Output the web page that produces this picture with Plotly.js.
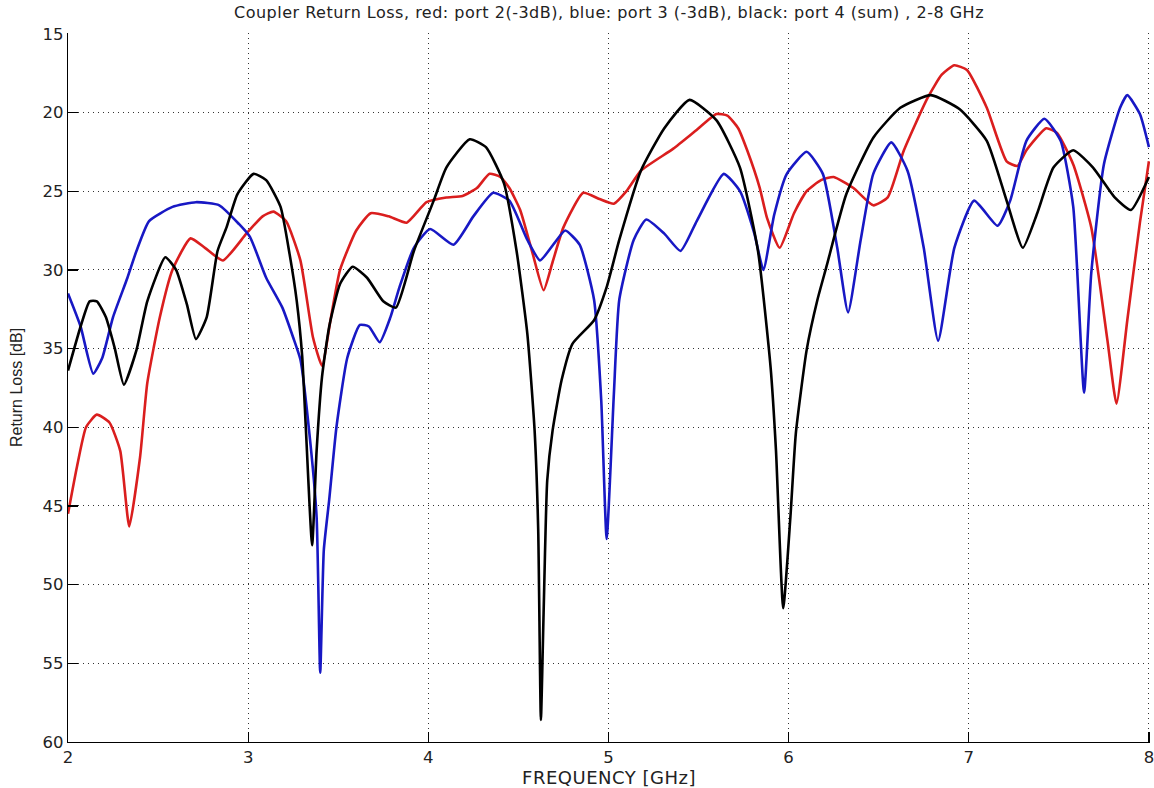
<!DOCTYPE html>
<html>
<head>
<meta charset="utf-8">
<script src="https://cdn.plot.ly/plotly-3.0.1.min.js"></script>
<style>
html,body{margin:0;padding:0;background:#fff;}
#chart{width:1154px;height:788px;}
#chart .gtitle{letter-spacing:0.5px;}
#chart .xtitle{letter-spacing:0.5px;}
</style>
</head>
<body>
<div id="chart"></div>
<script>
// Red: port 2 (-3dB)
const redFreq = [2.00,2.05,2.10,2.16,2.23,2.29,2.34,2.40,2.44,2.51,2.58,2.68,2.76,2.86,2.99,3.08,3.14,3.21,3.29,3.36,3.41,3.46,3.51,3.60,3.68,3.78,3.88,3.99,4.10,4.19,4.27,4.34,4.40,4.45,4.51,4.58,4.64,4.69,4.75,4.86,4.95,5.03,5.10,5.18,5.36,5.48,5.60,5.66,5.72,5.77,5.84,5.88,5.95,6.03,6.10,6.18,6.25,6.36,6.47,6.55,6.64,6.77,6.85,6.92,6.99,7.10,7.21,7.27,7.32,7.43,7.49,7.58,7.68,7.77,7.82,7.88,7.95,8.00];
const redRL   = [45.5,42.5,40.0,39.2,39.7,41.5,46.3,41.9,37.2,33.0,30.0,28.0,28.6,29.4,27.7,26.6,26.3,26.9,29.4,34.3,36.1,33.0,30.0,27.5,26.4,26.6,27.0,25.7,25.4,25.3,24.8,23.9,24.1,24.8,26.2,29.0,31.3,29.5,27.3,25.1,25.5,25.8,25.0,23.7,22.3,21.2,20.1,20.2,21.0,22.4,24.8,26.7,28.6,26.4,25.0,24.3,24.1,24.8,25.9,25.4,22.4,19.1,17.6,17.0,17.3,19.7,23.1,23.4,22.4,21.0,21.3,23.3,27.3,34.5,38.5,33.2,27.0,23.1];

// Blue: port 3 (-3dB)
const blueFreq = [2.00,2.07,2.14,2.19,2.25,2.33,2.38,2.45,2.58,2.71,2.84,2.95,3.01,3.10,3.19,3.25,3.29,3.34,3.38,3.40,3.42,3.45,3.49,3.55,3.62,3.67,3.73,3.79,3.84,3.92,4.01,4.14,4.25,4.36,4.45,4.55,4.62,4.70,4.76,4.84,4.92,4.96,4.99,5.03,5.06,5.14,5.21,5.31,5.40,5.49,5.64,5.73,5.81,5.86,5.92,5.99,6.10,6.19,6.27,6.33,6.40,6.47,6.57,6.66,6.75,6.83,6.92,7.03,7.16,7.23,7.32,7.42,7.51,7.58,7.64,7.68,7.75,7.84,7.88,7.95,8.00];
const blueRL   = [31.5,33.6,36.6,35.6,33.0,30.5,28.8,26.9,26.0,25.7,25.9,27.1,27.9,30.5,32.4,34.3,35.7,40.4,45.7,55.6,47.8,44.6,40.0,35.6,33.5,33.6,34.6,33.0,31.1,28.6,27.4,28.4,26.6,25.1,25.6,28.1,29.4,28.3,27.5,28.4,31.9,38.3,47.1,37.9,31.9,28.1,26.8,27.7,28.8,26.9,23.9,25.0,27.7,30.0,26.5,23.9,22.5,23.9,28.6,32.7,28.1,23.9,21.9,23.7,28.6,34.5,28.6,25.6,27.2,25.6,21.8,20.4,21.8,26.0,37.8,30.2,23.3,19.7,18.9,20.1,22.2];

// Black: port 4 (sum)
const blackFreq = [2.00,2.07,2.12,2.16,2.21,2.26,2.31,2.38,2.44,2.54,2.60,2.66,2.71,2.77,2.83,2.88,2.94,3.03,3.10,3.18,3.23,3.27,3.30,3.32,3.355,3.38,3.41,3.45,3.51,3.58,3.66,3.75,3.82,3.92,4.03,4.10,4.23,4.32,4.42,4.49,4.55,4.59,4.61,4.625,4.64,4.66,4.69,4.74,4.80,4.92,4.99,5.06,5.18,5.31,5.45,5.60,5.73,5.83,5.90,5.93,5.97,6.01,6.04,6.10,6.16,6.21,6.32,6.47,6.62,6.79,6.95,7.10,7.21,7.30,7.38,7.47,7.58,7.69,7.81,7.90,8.00];
const blackRL   = [36.4,33.6,32.0,32.0,33.0,35.0,37.3,35.1,32.0,29.2,30.0,32.2,34.4,33.0,28.8,27.3,25.2,23.9,24.3,26.0,29.0,32.0,35.5,40.0,47.5,41.5,36.8,33.6,30.9,29.8,30.5,32.0,32.4,28.8,25.6,23.5,21.7,22.2,24.5,28.8,34.1,40.2,46.5,58.6,51.8,43.4,40.2,37.0,34.7,33.2,31.1,28.1,23.7,21.0,19.2,20.5,23.5,28.8,36.2,41.5,51.5,45.7,40.4,35.1,31.9,29.8,25.2,21.6,19.7,18.9,19.8,21.8,25.6,28.6,26.4,23.5,22.4,23.5,25.4,26.2,24.1];

const xTicks = [2,3,4,5,6,7,8];
const yTicks = [15,20,25,30,35,40,45,50,55,60];

const titleText = 'Coupler Return Loss, red: port 2(-3dB), blue: port 3 (-3dB), black: port 4 (sum) , 2-8 GHz';
const xTitle = 'FREQUENCY [GHz]';
const yTitle = 'Return Loss [dB]';

const lineStyle = (c) => ({color: c, width: 2.6, shape: 'spline', smoothing: 0.5});

const traces = [
  {x: redFreq, y: redRL, mode: 'lines', line: lineStyle('rgb(218,30,30)'), name: 'port 2'},
  {x: blueFreq, y: blueRL, mode: 'lines', line: lineStyle('rgb(24,24,196)'), name: 'port 3'},
  {x: blackFreq, y: blackRL, mode: 'lines', line: lineStyle('#000000'), name: 'port 4'}
];

const wideFont = '"DejaVu Sans", Verdana, sans-serif';
const narrowFont = '"Liberation Sans", Arial, Helvetica, sans-serif';

const layout = {
  width: 1154, height: 788,
  margin: {l: 68, r: 4, t: 33, b: 46},
  paper_bgcolor: '#fff', plot_bgcolor: '#fff',
  showlegend: false,
  font: {family: wideFont, color: '#222', size: 15},
  title: {text: titleText, font: {size: 16, color: '#222', family: wideFont}, x: 0.5, xref: 'paper', y: 1 - 12/788, yref: 'container', yanchor: 'middle'},
  xaxis: {
    range: [2, 8.006], tickvals: xTicks, ticktext: xTicks.map(String),
    showgrid: true, gridcolor: '#333', griddash: '1px,4px', gridwidth: 1,
    showline: true, linecolor: '#000', linewidth: 1.3, mirror: false,
    ticks: 'inside', ticklen: 10, tickcolor: '#000', tickwidth: 1.3,
    ticklabeloverflow: 'allow',
    zeroline: false, tickfont: {size: 16.5, color: '#222', family: wideFont},
    title: {text: xTitle, font: {size: 18, color: '#222', family: wideFont}, standoff: 1}
  },
  yaxis: {
    range: [60, 14.95], tickvals: yTicks, ticktext: yTicks.map(String),
    showgrid: true, gridcolor: '#333', griddash: '1px,4px', gridwidth: 1,
    showline: true, linecolor: '#000', linewidth: 1.3, mirror: false,
    ticks: 'inside', ticklen: 10, tickcolor: '#000', tickwidth: 1.3,
    zeroline: false, tickfont: {size: 16.5, color: '#222', family: wideFont},
    title: {text: yTitle, font: {size: 16, color: '#222', family: narrowFont}, standoff: 15}
  }
};

Plotly.newPlot('chart', traces, layout, {staticPlot: true, displayModeBar: false});
</script>
</body>
</html>
